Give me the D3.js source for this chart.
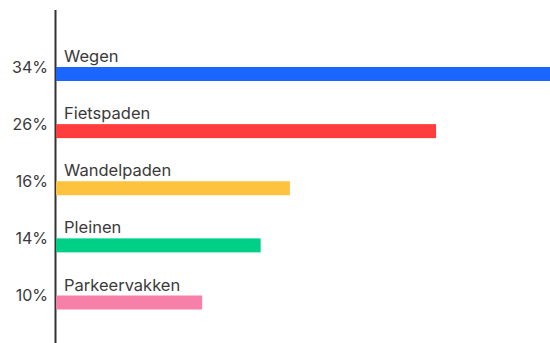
<!DOCTYPE html>
<html><head><meta charset="utf-8">
<script src="https://cdn.jsdelivr.net/npm/d3@7"></script>
<style>body{margin:0;background:#fff}svg{display:block}text{font-family:Inter,"Open Sans",sans-serif;fill:#3a3a3a}</style>
</head><body>
<script>
const categories = ["Wegen","Fietspaden","Wandelpaden","Pleinen","Parkeervakken"];
const values = [34,26,16,14,10];
const valueLabels = ["34%","26%","16%","14%","10%"];
const colors = ["#1a66ff","#ff3d3d","#fdc33e","#00cf88","#f780a8"];

const W=550,H=343;
const svg=d3.select("body").append("svg").attr("width",W).attr("height",H);
const x=d3.scaleLinear().domain([0,34]).range([56,553]);
const y=d3.scalePoint().domain(categories).range([74,302.5]);
const bh=14;

svg.append("line").attr("x1",55.5).attr("x2",55.5).attr("y1",10).attr("y2",H)
  .attr("stroke","#333").attr("stroke-width",2);

const g=svg.selectAll("g.bar").data(categories).join("g").attr("class","bar");
g.append("rect").attr("x",x(0)).attr("y",d=>y(d)-bh/2).attr("height",bh)
  .attr("width",(d,i)=>x(values[i])-x(0)).attr("fill",(d,i)=>colors[i]);
g.append("text").attr("x",64).attr("y",d=>y(d)-bh/2-5).attr("font-size",16.5).text(d=>d);
g.append("text").attr("x",48).attr("y",d=>y(d)-1.5).attr("text-anchor","end").attr("font-size",16).text((d,i)=>valueLabels[i]);
</script>
</body></html>
